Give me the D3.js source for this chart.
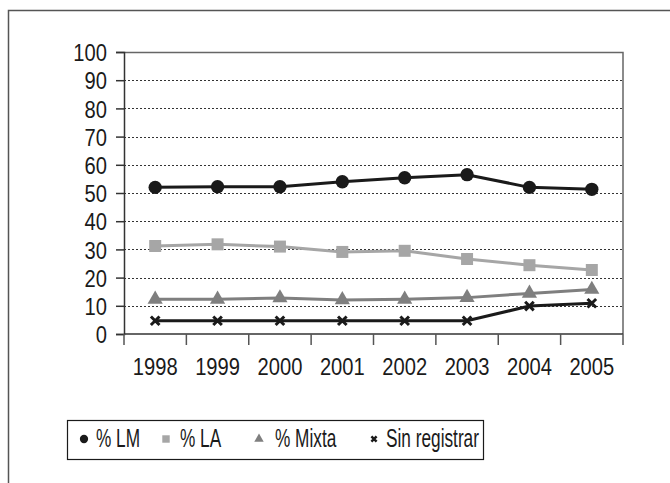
<!DOCTYPE html>
<html>
<head>
<meta charset="utf-8">
<script src="https://cdn.jsdelivr.net/npm/d3@7"></script>
<style>
  body { margin: 0; background: #fff; }
  svg { display: block; font-family: "Liberation Sans", Arial, sans-serif; }
</style>
</head>
<body>
<div class="wrapper"></div>
<script>
var years = ["1998", "1999", "2000", "2001", "2002", "2003", "2004", "2005"];
var yTicks = [0, 10, 20, 30, 40, 50, 60, 70, 80, 90, 100];
var lm = [52.0, 52.2, 52.2, 54.0, 55.4, 56.5, 52.0, 51.3];
var la = [31.2, 31.8, 31.0, 29.1, 29.5, 26.6, 24.4, 22.7];
var mixta = [12.3, 12.3, 12.8, 12.1, 12.3, 12.9, 14.4, 15.8];
var sinReg = [4.7, 4.7, 4.7, 4.7, 4.7, 4.7, 9.9, 10.9];
var seriesNames = ["% LM", "% LA", "% Mixta", "Sin registrar"];

var width = 670, height = 483;
var svg = d3.select(".wrapper").append("svg")
  .attr("width", width)
  .attr("height", height);

// the original font is a condensed sans, squeeze the text horizontally
function squeeze(sel, k) {
  sel.each(function() {
    var t = d3.select(this);
    var tx = +t.attr("x") || 0, ty = +t.attr("y") || 0;
    t.attr("x", 0).attr("y", 0)
      .attr("transform", "translate(" + tx + "," + ty + ") scale(" + k + ",1)");
  });
}

// outer frame (top + left only)
svg.append("path")
  .attr("d", "M8.5," + height + "V10.5H" + width)
  .attr("fill", "none")
  .attr("stroke", "#555")
  .attr("stroke-width", 1.5);

var margin = {top: 52, right: 47, bottom: 149, left: 124};
var w = width - margin.left - margin.right,
  h = height - margin.top - margin.bottom;
var g = svg.append("g").attr("transform", "translate(" + margin.left + "," + margin.top + ")");

var x = d3.scaleBand().domain(years).range([0, w]);
var y = d3.scaleLinear().domain([0, 100]).range([h, 0]);

// dotted gridlines
g.append("g")
  .selectAll("line")
  .data(yTicks.filter(function(d) { return d > 0 && d < 100; }))
  .enter().append("line")
    .attr("x1", 0)
    .attr("x2", w)
    .attr("y1", function(d) { return Math.round(y(d)) + 0.5; })
    .attr("y2", function(d) { return Math.round(y(d)) + 0.5; })
    .attr("stroke", "#333")
    .attr("stroke-width", 1)
    .attr("stroke-dasharray", "2,2");

// plot frame top + right
g.append("path")
  .attr("d", "M0,0.5H" + w + "V" + h)
  .attr("fill", "none")
  .attr("stroke", "#666")
  .attr("stroke-width", 1.5);

// y axis
var yAxis = g.append("g")
  .call(d3.axisLeft(y).tickValues(yTicks).tickSize(8));
yAxis.select(".domain").attr("stroke", "#333").attr("stroke-width", 1.5);
yAxis.selectAll(".tick line").attr("stroke", "#333").attr("stroke-width", 1.5);
yAxis.selectAll("text")
  .attr("font-family", null)
  .attr("font-size", 24)
  .attr("fill", "#1a1a1a")
  .attr("x", -17)
  .attr("dy", "0.36em")
  .call(squeeze, 0.84);

// x axis, ticks between categories
var xAxis = g.append("g")
  .attr("transform", "translate(0," + h + ")");
xAxis.append("line")
  .attr("x1", 0).attr("x2", w)
  .attr("stroke", "#333").attr("stroke-width", 1.5);
xAxis.selectAll(".xt")
  .data(years.concat(["end"]))
  .enter().append("line")
    .attr("class", "xt")
    .attr("x1", function(d, i) { return i < years.length ? x(d) : w; })
    .attr("x2", function(d, i) { return i < years.length ? x(d) : w; })
    .attr("y1", 0).attr("y2", 11)
    .attr("stroke", "#555").attr("stroke-width", 1.5);
xAxis.selectAll("text")
  .data(years)
  .enter().append("text")
    .attr("x", function(d) { return x(d) + x.bandwidth() / 2; })
    .attr("y", 41)
    .attr("text-anchor", "middle")
    .attr("font-size", 24)
    .attr("fill", "#1a1a1a")
    .text(function(d) { return d; })
    .call(squeeze, 0.84);

var cx = function(d, i) { return x(years[i]) + x.bandwidth() / 2; };
var line = d3.line()
  .x(function(d, i) { return cx(d, i); })
  .y(function(d) { return y(d); });

var series = [
  {name: seriesNames[0], values: lm, color: "#1a1a1a", mark: "circle"},
  {name: seriesNames[1], values: la, color: "#a6a6a6", mark: "square"},
  {name: seriesNames[2], values: mixta, color: "#7f7f7f", mark: "triangle"},
  {name: seriesNames[3], values: sinReg, color: "#1a1a1a", mark: "cross"}
];

function symbolFor(mark, big) {
  var s = big ? 1 : 0.62;
  if (mark == "circle") return d3.symbol().type(d3.symbolCircle).size(140 * s * s)();
  if (mark == "square") return d3.symbol().type(d3.symbolSquare).size(144 * s * s)();
  if (mark == "triangle") return d3.symbol().type(d3.symbolTriangle).size(100 * s * s)();
  return d3.symbol().type(d3.symbolTimes).size(50 * s * s)();
}

series.slice().reverse().forEach(function(s) {
  g.append("path")
    .datum(s.values)
    .attr("fill", "none")
    .attr("stroke", s.color)
    .attr("stroke-width", 3)
    .attr("d", line);
  g.selectAll(null)
    .data(s.values)
    .enter().append("path")
      .attr("transform", function(d, i) { return "translate(" + cx(d, i) + "," + y(d) + ")"; })
      .attr("d", symbolFor(s.mark, true))
      .attr("fill", s.mark == "cross" ? "none" : s.color)
      .attr("stroke", s.mark == "cross" ? s.color : "none")
      .attr("stroke-width", 3);
});

// legend
var legend = svg.append("g");
legend.append("rect")
  .attr("x", 67.5).attr("y", 420.5)
  .attr("width", 416).attr("height", 39)
  .attr("fill", "none")
  .attr("stroke", "#1a1a1a")
  .attr("stroke-width", 1.2);
var legendMarkX = [84, 166, 259, 374];
var legendTextX = [96, 180, 275, 386];
var item = legend.selectAll(".item")
  .data(series)
  .enter().append("g")
    .attr("class", "item");
item.append("path")
  .attr("transform", function(d, i) { return "translate(" + legendMarkX[i] + ",439)"; })
  .attr("d", function(d) { return symbolFor(d.mark, false); })
  .attr("fill", function(d) { return d.mark == "cross" ? "none" : d.color; })
  .attr("stroke", function(d) { return d.mark == "cross" ? d.color : "none"; })
  .attr("stroke-width", 2.5);
item.append("text")
  .attr("x", function(d, i) { return legendTextX[i]; })
  .attr("y", 447)
  .attr("font-size", 25)
  .attr("fill", "#1a1a1a")
  .text(function(d) { return d.name; })
  .call(squeeze, 0.69);
</script>
</body>
</html>
